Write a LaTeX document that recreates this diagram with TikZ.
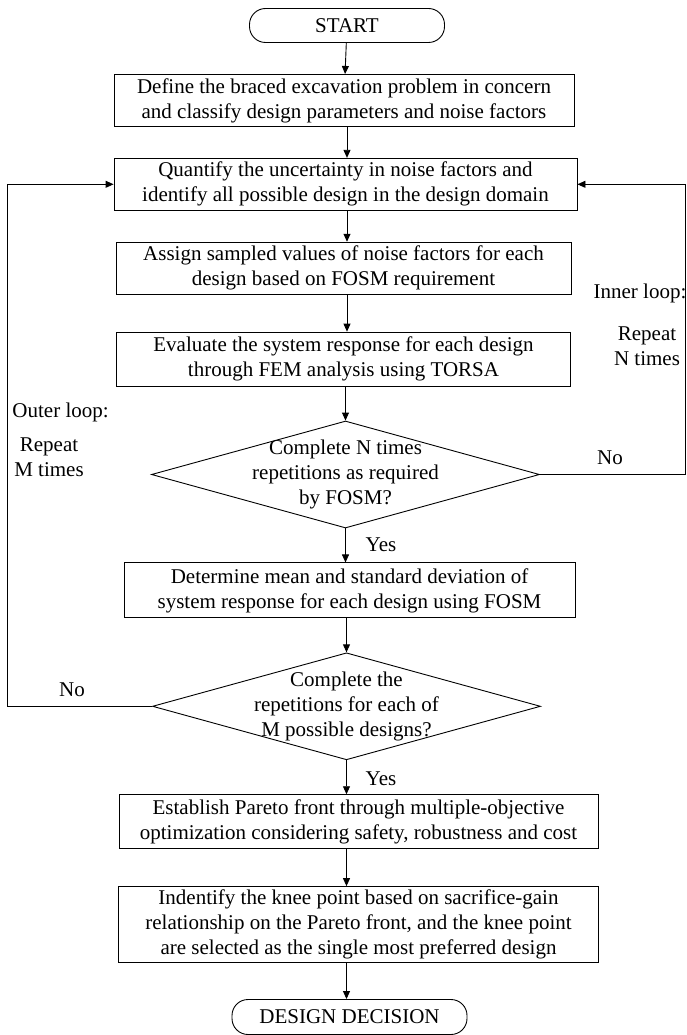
\documentclass[tikz,border=0pt]{standalone}
\usepackage{fontspec}
\setmainfont{Liberation Serif}
\usetikzlibrary{positioning}
\usetikzlibrary{shapes.geometric}
\usetikzlibrary{arrows.meta}
\tikzset{>={Triangle[length=8pt,width=7pt]}}
\tikzset{proc/.style={draw, rectangle, align=center, inner sep=2pt, minimum height=52pt}}
\tikzset{term/.style={draw, rectangle, rounded corners=16pt, minimum height=34pt}}
\tikzset{dec/.style={draw, diamond, inner sep=0pt, minimum width=388pt, minimum height=107pt}}
\tikzset{dtext/.style={align=center}}
\tikzset{ed/.style={align=center, inner sep=1pt}}

\begin{document}
\begin{tikzpicture}[x=1pt, y=1pt, font=\fontsize{21}{25}\selectfont, line width=0.9pt]
\useasboundingbox (0,0) rectangle (686,-1035);

\node (start) [term, minimum width=195pt] at (347,-25.5) {START};
\node (define) [proc, minimum width=460pt, below = 31pt of start, xshift=-3pt] {Define the braced excavation problem in concern\\and classify design parameters and noise factors};
\node (quantify) [proc, minimum width=463pt, below = 31pt of define, xshift=1.5pt] {Quantify the uncertainty in noise factors and\\identify all possible design in the design domain};
\node (assign) [proc, minimum width=455pt, below = 31pt of quantify, xshift=-2pt] {Assign sampled values of noise factors for each\\design based on FOSM requirement};
\node (evaluate) [proc, minimum width=454pt, minimum height=54pt, below = 37pt of assign] {Evaluate the system response for each design\\through FEM analysis using TORSA};
\node (nfosm) [dec, below = 34pt of evaluate, xshift=2pt, label={[dtext]center:{Complete N times\\repetitions as required\\by FOSM?}}] {};
\node (determine) [proc, minimum width=451pt, minimum height=55pt, below = 34pt of nfosm, xshift=4pt] {Determine mean and standard deviation of\\system response for each design using FOSM};
\node (mall) [dec, below = 34pt of determine, xshift=-3pt, label={[dtext]center:{Complete the\\repetitions for each of\\M possible designs?}}] {};
\node (pareto) [proc, minimum width=479pt, minimum height=54pt, below = 34pt of mall, xshift=12pt] {Establish Pareto front through multiple-objective\\optimization considering safety, robustness and cost};
\node (knee) [proc, minimum width=480pt, minimum height=76pt, below = 37pt of pareto] {Indentify the knee point based on sacrifice-gain\\relationship on the Pareto front, and the knee point\\are selected as the single most preferred design};
\node (decision) [term, minimum width=235pt, minimum height=35pt, below = 36pt of knee, xshift=-9pt] {DESIGN DECISION};

% main flow
\draw[->] (start) -- (define);
\draw[->] (define.south -| start) -- (quantify.north -| start);
\draw[->] (quantify.south -| start) -- (assign.north -| start);
\draw[->] (assign.south -| start) -- (evaluate.north -| start);
\draw[->] (evaluate.south -| nfosm) -- (nfosm.north);
\draw[->] (nfosm.south) -- (determine.north -| nfosm);
\draw[->] (determine.south -| mall) -- (mall.north);
\draw[->] (mall.south) -- (pareto.north -| mall);
\draw[->] (pareto.south -| mall) -- (knee.north -| mall);
\draw[->] (knee.south -| mall) -- (decision.north -| mall);

% loops
\coordinate (rin) at (685.5,0);
\coordinate (lout) at (7,0);
\draw[->] (nfosm.east) -- (nfosm.east -| rin) |- (quantify.east);
\draw[->] (mall.west) -- (mall.west -| lout) |- (quantify.west);

\node (yes1) at (381,-545) {Yes};
\node (yes2) at (381,-779) {Yes};
\node (noin) at (610,-458) {No};
\node (noout) at (72,-690) {No};

\node (inner) at (640,-293) {Inner loop:};
\node (innern) [ed] at (647,-346.5) {Repeat\\N times};
\node (outer) [anchor=west, inner sep=0pt] at (12,-412) {Outer loop:};
\node (outerm) [ed] at (49,-457) {Repeat\\M times};
\end{tikzpicture}
\end{document}
